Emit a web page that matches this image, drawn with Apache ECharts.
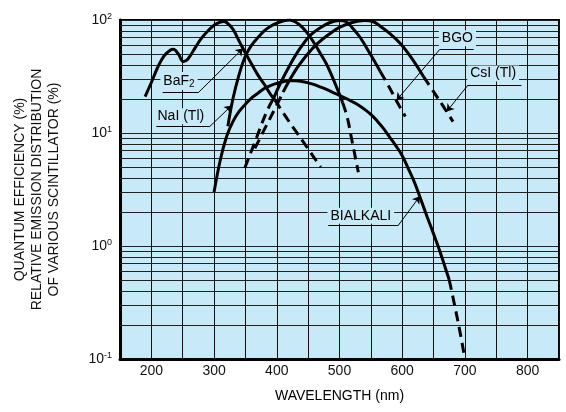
<!DOCTYPE html>
<html>
<head>
    <meta charset="utf-8"/>
    <title>Scintillator emission / bialkali QE</title>
    <style>
        body {
            margin: 0;
            padding: 0;
            background: #fff;
        }

        #chart {
            width: 566px;
            height: 412px;
        }
    </style>
    <script src="https://cdn.jsdelivr.net/npm/echarts@6/dist/echarts.min.js"></script>
</head>
<body>
<div id="chart"></div>
<script type="text/javascript">
    // [wavelength nm, relative value %]
    var baf2 = [[190, 21], [200, 28], [210, 38], [220, 48], [230, 54], [235, 55], [243, 50], [251, 43], [258, 45],
        [270, 57], [280, 69], [290, 80], [300, 90], [310, 96], [315, 97], [320, 95], [330, 83], [340, 65], [350, 51],
        [360, 40.5], [370, 32.5], [380, 27], [390, 22], [397, 19.6]];
    var baf2Tail = [[397, 19.6], [420, 12.5], [440, 8.7], [460, 6.0], [470, 5.0]];

    var nai = [[322, 11.5], [330, 20], [340, 33], [350, 48], [360, 60], [370, 70], [380, 80], [390, 88], [400, 94],
        [410, 98], [420, 100], [430, 96], [440, 87], [450, 75], [460, 62], [470, 50], [480, 40], [490, 30],
        [500, 22], [505, 18.5]];
    var naiTail = [[505, 18.5], [512, 14], [520, 8.5], [530, 4.5]];

    var bgoHead = [[349, 4.9], [365, 8.3], [384, 15.5], [395, 20.3]];
    var bgo = [[395, 20.3], [405, 27], [421, 40], [437, 56], [453, 73], [470, 86], [485, 95], [500, 99], [510, 97],
        [520, 86], [533, 70], [550, 49], [565, 35]];
    var bgoTail = [[565, 35], [580, 25], [595, 17.5], [605, 14]];

    var csiHead = [[365, 7.3], [380, 10.7], [400, 17.7], [410, 23]];
    var csi = [[410, 23], [430, 36], [448, 49], [465, 62], [485, 76], [500, 86], [520, 95], [540, 99], [555, 96],
        [565, 88], [580, 76], [597, 62], [615, 46], [634, 31.5]];
    var csiTail = [[634, 31.5], [650, 23.2], [665, 17.4], [681, 12.6]];

    var bialkali = [[300, 3.0], [310, 5.8], [320, 9.3], [330, 12.6], [340, 15.5], [350, 18], [360, 20.5], [370, 22.5],
        [380, 24.8], [390, 26.3], [400, 27.5], [410, 28.4], [420, 29], [430, 29], [440, 28.6], [450, 27.8],
        [460, 26.8], [470, 25.5], [480, 24.2], [490, 22.8], [500, 21.5], [510, 20.3], [520, 19], [530, 17.7],
        [540, 16.2], [550, 14.6], [560, 12.8], [570, 11], [580, 9.2], [590, 7.7], [600, 6.3], [610, 4.8],
        [620, 3.6], [630, 2.55], [640, 1.8], [650, 1.28], [660, 0.9], [675, 0.5]];
    var bialkaliTail = [[675, 0.5], [690, 0.2], [700, 0.1]];

    var xTicks = [200, 300, 400, 500, 600, 700, 800];
    var minorLines = [0.2, 0.3, 0.4, 0.5, 0.6, 0.7, 0.8, 0.9, 2, 3, 4, 5, 6, 7, 8, 9, 20, 30, 40, 50, 60, 70, 80, 90];

    // label text, text centre, underline + leader (last point = arrow tip)
    var notes = [
        {text: '{a|BaF}{s|2}', at: [244, 28.8], path: [[218, 22.8], [275, 22.8], [346, 56]]},
        {text: 'NaI (Tl)', at: [247, 14.1], path: [[208, 11.4], [293, 11.4], [328, 17.5]]},
        {text: 'BGO', at: [688, 69], path: [[714, 55], [660, 55], [591, 19.5]]},
        {text: 'CsI (Tl)', at: [745, 33.7], path: [[790, 26.6], [705, 26.6], [671, 15.5]]},
        {text: 'BIALKALI', at: [534, 1.85], path: [[482, 1.53], [594, 1.53], [628, 2.75]]}
    ];

    var plotBg = '#c8eaf8';
    var font = '"Liberation Sans", Arial, Helvetica, sans-serif';
    var dash = [10, 6];

    function curve(data, type) {
        return {
            type: 'line',
            data: data,
            smooth: 0.4,
            showSymbol: false,
            symbol: 'none',
            silent: true,
            lineStyle: {color: '#000', width: 3, type: type || 'solid'}
        };
    }

    var leaderData = [];
    notes.forEach(function (n) {
        leaderData.push([{coord: n.path[0], symbol: 'none'}, {coord: n.path[1], symbol: 'none'}]);
        leaderData.push([{coord: n.path[1], symbol: 'none'}, {coord: n.path[2], symbol: 'arrow'}]);
    });

    var series = [
        curve(baf2), curve(baf2Tail, dash),
        curve(nai), curve(naiTail, dash),
        curve(bgoHead, dash), curve(bgo), curve(bgoTail, dash),
        curve(csiHead, dash), curve(csi), curve(csiTail, dash),
        curve(bialkali), curve(bialkaliTail, dash)
    ];

    // minor log grid lines
    series[0].markLine = {
        z: 1,
        silent: true,
        symbol: 'none',
        animation: false,
        label: {show: false},
        lineStyle: {color: '#222', width: 1, type: 'solid'},
        data: minorLines.map(function (v) {
            return {yAxis: v};
        })
    };

    // labels and leader lines
    series[10].markPoint = {
        z: 1.5,
        silent: true,
        animation: false,
        symbol: 'rect',
        symbolSize: 1,
        itemStyle: {color: 'rgba(0,0,0,0)'},
        label: {
            show: true,
            position: 'inside',
            color: '#000',
            fontFamily: font,
            fontSize: 14,
            backgroundColor: plotBg,
            padding: [1, 3, 1, 3],
            rich: {
                a: {fontFamily: font, fontSize: 14, lineHeight: 16, color: '#000'},
                s: {fontFamily: font, fontSize: 10, lineHeight: 10, verticalAlign: 'bottom', color: '#000'}
            }
        },
        data: notes.map(function (n) {
            return {coord: n.at, label: {formatter: n.text}};
        })
    };
    series[11].markLine = {
        z: 3,
        silent: true,
        animation: false,
        symbolSize: 7,
        label: {show: false},
        lineStyle: {color: '#000', width: 1, type: 'solid'},
        data: leaderData
    };

    var chart = echarts.init(document.getElementById('chart'), null, {renderer: 'canvas'});
    chart.setOption({
        animation: false,
        grid: {
            left: 120,
            top: 20,
            right: 7,
            bottom: 53,
            show: true,
            backgroundColor: plotBg,
            borderColor: '#000',
            borderWidth: 2
        },
        xAxis: {
            type: 'value',
            min: 150,
            max: 850,
            interval: 50,
            name: 'WAVELENGTH (nm)',
            nameLocation: 'middle',
            nameGap: 30,
            nameTextStyle: {fontFamily: font, fontSize: 14, color: '#000'},
            axisLine: {lineStyle: {color: '#000', width: 3}},
            axisTick: {show: false},
            axisLabel: {
                margin: 5,
                fontFamily: font,
                fontSize: 14,
                color: '#111',
                formatter: function (v) {
                    return xTicks.indexOf(v) >= 0 ? String(v) : '';
                }
            },
            splitLine: {show: true, lineStyle: {color: '#111', width: 1}}
        },
        yAxis: {
            type: 'log',
            logBase: 10,
            min: 0.1,
            max: 100,
            name: 'QUANTUM EFFICIENCY (%)\nRELATIVE EMISSION DISTRIBUTION\nOF VARIOUS SCINTILLATOR (%)',
            nameLocation: 'middle',
            nameRotate: 90,
            nameGap: 57,
            nameTextStyle: {fontFamily: font, fontSize: 14, lineHeight: 17, color: '#111', align: 'center'},
            axisLine: {show: true, lineStyle: {color: '#000', width: 3}},
            axisTick: {show: false},
            axisLabel: {
                margin: 8,
                formatter: function (v) {
                    var e = Math.round(Math.log(v) / Math.LN10);
                    return '{b|10}{s|' + e + '}';
                },
                rich: {
                    b: {fontFamily: font, fontSize: 14, lineHeight: 16, color: '#111'},
                    s: {fontFamily: font, fontSize: 9, lineHeight: 9, verticalAlign: 'top', color: '#111'}
                }
            },
            splitLine: {show: true, lineStyle: {color: '#222', width: 1}}
        },
        series: series
    });
</script>
</body>
</html>
